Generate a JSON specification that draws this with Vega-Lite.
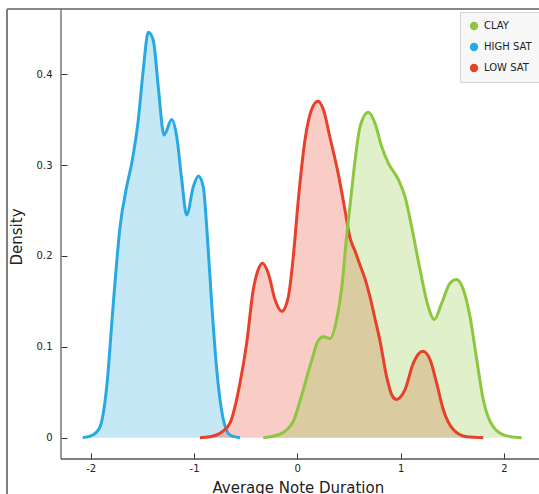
{
  "$schema": "https://vega.github.io/schema/vega-lite/v6.json",
  "autosize": "none",
  "padding": {"left": 7, "top": 9, "right": 0, "bottom": 0},
  "width": 532,
  "height": 485,
  "background": "white",
  "config": {
    "view": {"stroke": null},
    "font": "DejaVu Sans"
  },
  "datasets": {
    "density": [
      {"group": "HIGH SAT", "x": -2.077, "d": 0},
      {"group": "HIGH SAT", "x": -1.98, "d": 0.003},
      {"group": "HIGH SAT", "x": -1.91, "d": 0.012},
      {"group": "HIGH SAT", "x": -1.845, "d": 0.056},
      {"group": "HIGH SAT", "x": -1.781, "d": 0.148},
      {"group": "HIGH SAT", "x": -1.716, "d": 0.232},
      {"group": "HIGH SAT", "x": -1.652, "d": 0.276},
      {"group": "HIGH SAT", "x": -1.603, "d": 0.302},
      {"group": "HIGH SAT", "x": -1.539, "d": 0.35},
      {"group": "HIGH SAT", "x": -1.491, "d": 0.405},
      {"group": "HIGH SAT", "x": -1.442, "d": 0.446},
      {"group": "HIGH SAT", "x": -1.394, "d": 0.437},
      {"group": "HIGH SAT", "x": -1.346, "d": 0.386},
      {"group": "HIGH SAT", "x": -1.29, "d": 0.333},
      {"group": "HIGH SAT", "x": -1.216, "d": 0.35},
      {"group": "HIGH SAT", "x": -1.167, "d": 0.331},
      {"group": "HIGH SAT", "x": -1.119, "d": 0.284},
      {"group": "HIGH SAT", "x": -1.071, "d": 0.245},
      {"group": "HIGH SAT", "x": -1.007, "d": 0.276},
      {"group": "HIGH SAT", "x": -0.958, "d": 0.288},
      {"group": "HIGH SAT", "x": -0.91, "d": 0.276},
      {"group": "HIGH SAT", "x": -0.877, "d": 0.232},
      {"group": "HIGH SAT", "x": -0.829, "d": 0.148},
      {"group": "HIGH SAT", "x": -0.78, "d": 0.075},
      {"group": "HIGH SAT", "x": -0.716, "d": 0.02},
      {"group": "HIGH SAT", "x": -0.652, "d": 0.003},
      {"group": "HIGH SAT", "x": -0.555, "d": 0},

      {"group": "LOW SAT", "x": -0.942, "d": 0},
      {"group": "LOW SAT", "x": -0.85, "d": 0.001},
      {"group": "LOW SAT", "x": -0.748, "d": 0.005},
      {"group": "LOW SAT", "x": -0.652, "d": 0.016},
      {"group": "LOW SAT", "x": -0.555, "d": 0.06},
      {"group": "LOW SAT", "x": -0.49, "d": 0.104},
      {"group": "LOW SAT", "x": -0.426, "d": 0.163},
      {"group": "LOW SAT", "x": -0.378, "d": 0.185},
      {"group": "LOW SAT", "x": -0.335, "d": 0.192},
      {"group": "LOW SAT", "x": -0.281, "d": 0.181},
      {"group": "LOW SAT", "x": -0.216, "d": 0.152},
      {"group": "LOW SAT", "x": -0.151, "d": 0.139},
      {"group": "LOW SAT", "x": -0.087, "d": 0.155},
      {"group": "LOW SAT", "x": -0.039, "d": 0.199},
      {"group": "LOW SAT", "x": 0.01, "d": 0.262},
      {"group": "LOW SAT", "x": 0.075, "d": 0.328},
      {"group": "LOW SAT", "x": 0.139, "d": 0.361},
      {"group": "LOW SAT", "x": 0.2, "d": 0.37},
      {"group": "LOW SAT", "x": 0.252, "d": 0.361},
      {"group": "LOW SAT", "x": 0.317, "d": 0.33},
      {"group": "LOW SAT", "x": 0.397, "d": 0.29},
      {"group": "LOW SAT", "x": 0.462, "d": 0.25},
      {"group": "LOW SAT", "x": 0.51, "d": 0.22},
      {"group": "LOW SAT", "x": 0.56, "d": 0.205},
      {"group": "LOW SAT", "x": 0.607, "d": 0.19},
      {"group": "LOW SAT", "x": 0.655, "d": 0.175},
      {"group": "LOW SAT", "x": 0.704, "d": 0.155},
      {"group": "LOW SAT", "x": 0.75, "d": 0.132},
      {"group": "LOW SAT", "x": 0.8, "d": 0.107},
      {"group": "LOW SAT", "x": 0.865, "d": 0.067},
      {"group": "LOW SAT", "x": 0.92, "d": 0.046},
      {"group": "LOW SAT", "x": 0.962, "d": 0.042},
      {"group": "LOW SAT", "x": 1.0, "d": 0.045},
      {"group": "LOW SAT", "x": 1.043, "d": 0.053},
      {"group": "LOW SAT", "x": 1.123, "d": 0.082},
      {"group": "LOW SAT", "x": 1.214, "d": 0.095},
      {"group": "LOW SAT", "x": 1.285, "d": 0.086},
      {"group": "LOW SAT", "x": 1.349, "d": 0.06},
      {"group": "LOW SAT", "x": 1.413, "d": 0.031},
      {"group": "LOW SAT", "x": 1.51, "d": 0.009},
      {"group": "LOW SAT", "x": 1.64, "d": 0.001},
      {"group": "LOW SAT", "x": 1.8, "d": 0},

      {"group": "CLAY", "x": -0.329, "d": 0},
      {"group": "CLAY", "x": -0.167, "d": 0.004},
      {"group": "CLAY", "x": -0.039, "d": 0.018},
      {"group": "CLAY", "x": 0.03, "d": 0.042},
      {"group": "CLAY", "x": 0.139, "d": 0.085},
      {"group": "CLAY", "x": 0.203, "d": 0.107},
      {"group": "CLAY", "x": 0.252, "d": 0.111},
      {"group": "CLAY", "x": 0.317, "d": 0.109},
      {"group": "CLAY", "x": 0.381, "d": 0.13},
      {"group": "CLAY", "x": 0.43, "d": 0.165},
      {"group": "CLAY", "x": 0.478, "d": 0.222},
      {"group": "CLAY", "x": 0.51, "d": 0.255},
      {"group": "CLAY", "x": 0.559, "d": 0.305},
      {"group": "CLAY", "x": 0.607, "d": 0.342},
      {"group": "CLAY", "x": 0.687, "d": 0.358},
      {"group": "CLAY", "x": 0.752, "d": 0.346},
      {"group": "CLAY", "x": 0.817, "d": 0.32},
      {"group": "CLAY", "x": 0.881, "d": 0.302},
      {"group": "CLAY", "x": 0.978, "d": 0.284},
      {"group": "CLAY", "x": 1.043, "d": 0.265},
      {"group": "CLAY", "x": 1.107, "d": 0.232},
      {"group": "CLAY", "x": 1.188, "d": 0.185},
      {"group": "CLAY", "x": 1.268, "d": 0.144},
      {"group": "CLAY", "x": 1.326, "d": 0.13},
      {"group": "CLAY", "x": 1.398, "d": 0.148},
      {"group": "CLAY", "x": 1.478, "d": 0.17},
      {"group": "CLAY", "x": 1.543, "d": 0.174},
      {"group": "CLAY", "x": 1.607, "d": 0.163},
      {"group": "CLAY", "x": 1.672, "d": 0.133},
      {"group": "CLAY", "x": 1.737, "d": 0.086},
      {"group": "CLAY", "x": 1.8, "d": 0.042},
      {"group": "CLAY", "x": 1.897, "d": 0.012},
      {"group": "CLAY", "x": 2.027, "d": 0.002},
      {"group": "CLAY", "x": 2.172, "d": 0}
    ]
  },
  "layer": [
    {
      "data": {"name": "density"},
      "mark": {"type": "area", "interpolate": "monotone", "fillOpacity": 0.27},
      "encoding": {
        "x": {
          "field": "x", "type": "quantitative",
          "scale": {"domain": [-2.8103, 2.3398], "nice": false, "zero": false},
          "axis": {
            "title": "Average Note Duration",
            "offset": -35,
            "domain": false, "grid": false,
            "values": [-2, -1, 0, 1, 2],
            "labelExpr": "'' + datum.value",
            "tickSize": -6, "tickColor": "#333", "tickWidth": 1,
            "labelPadding": 10, "labelFontSize": 10, "labelColor": "#222",
            "titleFontSize": 15, "titleFontWeight": "normal", "titleColor": "#222",
            "titleX": 290.8, "titleY": 33, "titleAlign": "center", "titleBaseline": "alphabetic"
          }
        },
        "y": {
          "field": "d", "type": "quantitative", "stack": null,
          "scale": {"domain": [-0.06194, 0.47162], "nice": false, "zero": false},
          "axis": {
            "title": "Density",
            "offset": -54,
            "domain": false, "grid": false,
            "values": [0, 0.1, 0.2, 0.3, 0.4],
            "labelExpr": "'' + datum.value",
            "tickSize": -6, "tickColor": "#333", "tickWidth": 1,
            "labelPadding": 15, "labelFontSize": 10, "labelColor": "#222",
            "titleFontSize": 15, "titleFontWeight": "normal", "titleColor": "#222",
            "titleAngle": 270, "titleX": -40, "titleY": 227.5, "titleAlign": "center", "titleBaseline": "alphabetic"
          }
        },
        "color": {
          "field": "group", "type": "nominal",
          "scale": {"domain": ["CLAY", "HIGH SAT", "LOW SAT"], "range": ["#8dc63f", "#29a9e1", "#e8412b"]},
          "legend": {
            "orient": "none", "legendX": 453, "legendY": 3,
            "title": null,
            "symbolType": "circle", "symbolSize": 70, "symbolOpacity": 1, "symbolStrokeWidth": 0,
            "labelFontSize": 10, "labelColor": "#222", "labelOffset": 5,
            "padding": 9, "rowPadding": 11,
            "fillColor": "#f7f7f7", "strokeColor": "#d4d4d4"
          }
        }
      }
    },
    {
      "data": {"name": "density"},
      "mark": {"type": "line", "interpolate": "monotone", "strokeWidth": 3},
      "encoding": {
        "x": {"field": "x", "type": "quantitative"},
        "y": {"field": "d", "type": "quantitative"},
        "color": {"field": "group", "type": "nominal", "legend": null}
      }
    },
    {
      "data": {"values": [{}]},
      "mark": {"type": "rule", "color": "#555", "strokeWidth": 1.5},
      "encoding": {
        "x": {"datum": -2.8103, "type": "quantitative"},
        "y": {"datum": -0.06194, "type": "quantitative"},
        "y2": {"datum": 0.47162}
      }
    },
    {
      "data": {"values": [{}]},
      "mark": {"type": "rule", "color": "#888", "strokeWidth": 2},
      "encoding": {
        "y": {"datum": 0.47162, "type": "quantitative"},
        "x": {"datum": -2.8103, "type": "quantitative"},
        "x2": {"datum": 2.3398}
      }
    },
    {
      "data": {"values": [{}]},
      "mark": {"type": "rule", "color": "#777", "strokeWidth": 1.5},
      "encoding": {
        "x": {"datum": -2.2875, "type": "quantitative"},
        "y": {"datum": -0.02343, "type": "quantitative"},
        "y2": {"datum": 0.47162}
      }
    },
    {
      "data": {"values": [{}]},
      "mark": {"type": "rule", "color": "#555", "strokeWidth": 1.5},
      "encoding": {
        "y": {"datum": -0.02343, "type": "quantitative"},
        "x": {"datum": -2.2875, "type": "quantitative"},
        "x2": {"datum": 2.3398}
      }
    }
  ]
}
